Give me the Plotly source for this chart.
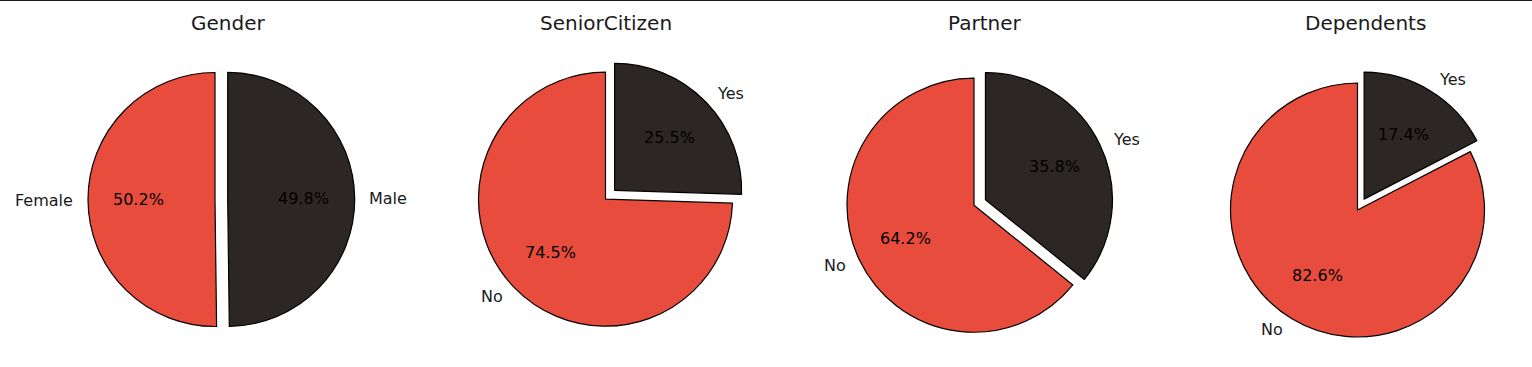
import math
import plotly.graph_objects as go

W, H = 1532, 367

titles = ["Gender", "SeniorCitizen", "Partner", "Dependents"]
labels = [["Female", "Male"], ["No", "Yes"], ["No", "Yes"], ["No", "Yes"]]
values = [[50.2, 49.8], [74.5, 25.5], [64.2, 35.8], [82.6, 17.4]]
pulls = [0, 0.1]
colors = ["#E74C3C", "#2C2724"]

# layout (pixels): pie centres, radius, title positions
centers = [(215, 199.5), (605.5, 199.2), (974, 205.2), (1357.5, 210)]
title_x = [227.5, 605.5, 984.7, 1365]
R = 127.0
PCT_D, LAB_D = 0.6, 1.1

fig = go.Figure()
annotations = []
S = 2 * R * (1 + max(pulls))
for i, (cx, cy) in enumerate(centers):
    total = sum(values[i])
    # plotly's counterclockwise mode puts the first slice clockwise of the start;
    # rotate so the first slice runs counterclockwise from 12 o'clock (like startangle=90)
    rot = -values[i][0] / total * 360
    fig.add_trace(go.Pie(
        labels=labels[i], values=values[i], sort=False,
        direction="counterclockwise", rotation=rot,
        pull=pulls, marker=dict(colors=colors, line=dict(color="black", width=1.2)),
        textinfo="none", hoverinfo="skip", showlegend=False,
        domain=dict(x=[(cx - S / 2) / W, (cx + S / 2) / W],
                    y=[1 - (cy + S / 2) / H, 1 - (cy - S / 2) / H]),
    ))
    cum = 0.0
    for k, v in enumerate(values[i]):
        mid = math.radians(90 + (cum + v / 2) / total * 360)
        cum += v
        c, s = math.cos(mid), math.sin(mid)
        ox, oy = cx + pulls[k] * R * c, cy - pulls[k] * R * s
        px, py = ox + PCT_D * R * c, oy - PCT_D * R * s
        lx, ly = ox + LAB_D * R * c, oy - LAB_D * R * s
        annotations.append(dict(x=px / W, y=1 - py / H, xref="paper", yref="paper",
                                text=f"{v:.1f}%", showarrow=False,
                                xanchor="center", yanchor="middle",
                                font=dict(size=16, color="black")))
        annotations.append(dict(x=lx / W, y=1 - ly / H, xref="paper", yref="paper",
                                text=labels[i][k], showarrow=False,
                                xanchor="left" if c > 0 else "right", yanchor="middle",
                                font=dict(size=16, color="#1a1a1a")))
    annotations.append(dict(x=title_x[i] / W, y=1 - 23 / H, xref="paper", yref="paper",
                            text=titles[i], showarrow=False,
                            xanchor="center", yanchor="middle",
                            font=dict(size=20, color="#1a1a1a")))

fig.update_layout(
    width=W, height=H, margin=dict(l=0, r=0, t=0, b=0),
    paper_bgcolor="white", plot_bgcolor="white",
    font=dict(family="DejaVu Sans"),
    annotations=annotations,
    shapes=[dict(type="line", xref="paper", yref="paper", x0=0, x1=1, y0=1, y1=1,
                 line=dict(color="#1a1a1a", width=2))],
)
fig.write_html("out.html")
